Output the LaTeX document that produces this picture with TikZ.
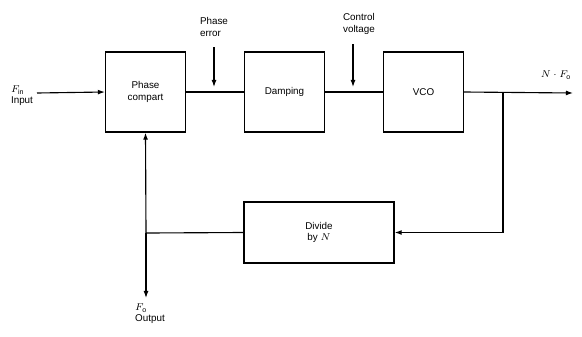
\documentclass[tikz,border=0pt]{standalone}
\usepackage{fontspec}
\setmainfont{Liberation Sans}
\usepackage{tikz}
\usetikzlibrary{arrows.meta,positioning}

\begin{document}
\begin{tikzpicture}[x=0.025cm,y=-0.025cm,>={Latex[length=5pt,width=3.5pt]},font=\scriptsize,
  blk/.style={draw,line width=0.9pt,minimum width=2cm,minimum height=2cm,align=center,inner sep=1pt},
  wide/.style={blk,minimum width=3.75cm,minimum height=1.52cm},
  lb/.style={align=left,inner sep=1pt,font=\scriptsize},
  ln/.style={line width=0.8pt}]
  \useasboundingbox (0,0) rectangle (582,336);
  % blocks
  \node[blk]  (pc)  at (145.5,92)  {Phase\\compart};
  \node[blk]  (dmp) at (284.5,92)  {Damping};
  \node[blk]  (vco) at (423.5,92)  {VCO};
  \node[wide] (div) at (319,232.5) {Divide\\by $N$};
  % free ends and junctions
  \coordinate (in)  at (37,93);
  \coordinate (out) at (573,93);
  \coordinate (jr)  at (503,93);
  \coordinate (jl)  at (146,233);
  \coordinate (fo)  at (146,298);
  \coordinate (pe)  at (214,47);
  \coordinate (pe1) at (214,87);
  \coordinate (cv)  at (353,44);
  \coordinate (cv1) at (353,87);
  % signal path
  \draw[ln,->] (in) -- (pc.west);
  \draw[ln] (pc.east) -- (dmp.west);
  \draw[ln] (dmp.east) -- (vco.west);
  \draw[ln,->] (vco.east) -- (out);
  \draw[ln,->] (jr) |- (div.east);
  \draw[ln] (div.west) -- (jl);
  \draw[ln,->] (jl) -- (pc.south);
  \draw[ln,->] (jl) -- (fo);
  \draw[ln,->] (pe) -- (pe1);
  \draw[ln,->] (cv) -- (cv1);
  % labels
  \node[lb] (fin)  at (22,96)    {$F_{\mathrm{in}}$\\Input};
  \node[lb] (pel)  at (214,27)   {Phase\\error};
  \node[lb] (cvl)  at (359,24)   {Control\\voltage};
  \node[lb] (nfo)  at (556,75)   {$N \cdot F_{\mathrm{o}}$};
  \node[lb] (fol)  at (150,314)  {$F_{\mathrm{o}}$\\Output};
\end{tikzpicture}
\end{document}
